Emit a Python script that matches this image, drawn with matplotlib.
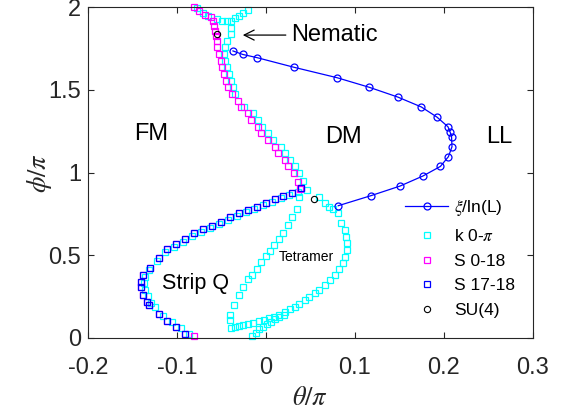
import matplotlib
matplotlib.use("Agg")
import matplotlib.pyplot as plt
from matplotlib.ticker import FuncFormatter

# xi/ln(L) line
theta_xi = [-0.0371, -0.0263, -0.0098, 0.0315, 0.0798, 0.116, 0.148, 0.1745, 0.192, 0.2045,
            0.207, 0.2085, 0.209, 0.205, 0.196, 0.1764, 0.1506, 0.118, 0.0812]
phi_xi = [1.736, 1.715, 1.695, 1.637, 1.574, 1.516, 1.457, 1.397, 1.336, 1.277,
          1.243, 1.217, 1.156, 1.096, 1.037, 0.979, 0.918, 0.86, 0.799]

# k 0-pi (cyan)
theta_k = [-0.077, -0.0712, -0.0652, -0.0547, -0.0494, -0.0443, -0.0398, -0.0353, -0.0308, -0.0263, -0.0202,
           -0.039, -0.039, -0.0435, -0.0465, -0.0472, -0.0457, -0.0443, -0.042, -0.0398, -0.0367, -0.0353,
           -0.0252, -0.0146, -0.009, -0.0042, 0.0018, 0.0074, 0.0164, 0.0217, 0.027, 0.0321, 0.0366, 0.0419,
           0.0456, 0.0599, 0.0658, 0.0711, 0.0756, 0.0809, 0.0846, 0.0883, 0.0899, 0.0913, 0.0913, 0.0891,
           0.0861, 0.0816, 0.0771, 0.0719, 0.0658, 0.0599, 0.0546, 0.0487, 0.0434, 0.0374, 0.0329, 0.027,
           0.0209, 0.0149, 0.009, 0.0029, -0.0022, -0.0083, -0.0151, -0.0202, -0.0255, -0.0308, -0.0353, -0.0398,
           -0.0409, -0.0404, -0.036, -0.0308, -0.0255, -0.0202, -0.0157, -0.0106, -0.0061, 0.0, 0.0045, 0.009,
           0.0142, 0.0187, 0.0247, 0.0292, 0.0344, 0.0374,
           -0.0157, -0.0112, -0.0075, -0.003, 0.0015, 0.006, 0.0104, 0.0149, 0.0197,
           0.036, 0.026, 0.017, 0.007, -0.003, -0.013, -0.023, -0.033, -0.043, -0.053, -0.063, -0.073,
           -0.083, -0.093, -0.103, -0.113, -0.123, -0.132, -0.136, -0.137, -0.136, -0.133, -0.129, -0.125,
           -0.116, -0.106, -0.096, -0.086]
phi_k = [1.995, 1.964, 1.947, 1.927, 1.919, 1.915, 1.919, 1.933, 1.947, 1.964, 1.984,
         1.875, 1.837, 1.794, 1.758, 1.717, 1.677, 1.637, 1.596, 1.556, 1.516, 1.475,
         1.398, 1.358, 1.318, 1.277, 1.237, 1.197, 1.156, 1.116, 1.076, 1.038, 0.997, 0.950,
         0.894, 0.854, 0.814, 0.793, 0.777, 0.753, 0.696, 0.652, 0.611, 0.571, 0.531, 0.487,
         0.450, 0.414, 0.380, 0.349, 0.317, 0.289, 0.269, 0.248, 0.228, 0.204, 0.188, 0.172,
         0.156, 0.139, 0.127, 0.119, 0.107, 0.099, 0.091, 0.083, 0.075, 0.071, 0.067, 0.059,
         0.107, 0.136, 0.200, 0.257, 0.305, 0.354, 0.381, 0.414, 0.458, 0.495, 0.527, 0.563,
         0.599, 0.636, 0.680, 0.729, 0.777, 0.854,
         0.010, 0.030, 0.051, 0.067, 0.083, 0.095, 0.111, 0.123, 0.137,
         0.885, 0.862, 0.843, 0.822, 0.802, 0.781, 0.760, 0.737, 0.715, 0.688, 0.665, 0.640,
         0.615, 0.582, 0.550, 0.520, 0.465, 0.410, 0.365, 0.330, 0.288, 0.250, 0.212, 0.185,
         0.130, 0.095, 0.058, 0.020]

# S 0-18 (magenta)
theta_s018 = [-0.0809, -0.0749, -0.069, -0.0615, -0.060, -0.0584, -0.057, -0.0562, -0.0555, -0.0547,
              -0.0533, -0.051, -0.0494, -0.0472, -0.0449, -0.0427, -0.0382, -0.0315, -0.0278, -0.0202,
              -0.0169, -0.009, -0.0061, 0.0022, 0.0097, 0.0138, 0.0209, 0.0243, 0.031, 0.0355, 0.0382,
              0.0397, 0.0292, 0.0194, 0.0097, 0.0, -0.0106, -0.0202, -0.030, -0.0404, -0.051, -0.0607,
              -0.0704, -0.0809, -0.0907, -0.101, -0.111, -0.1207, -0.1303, -0.1379, -0.140, -0.140,
              -0.1386, -0.134, -0.131, -0.1207, -0.111, -0.101, -0.0907, -0.0809]
phi_s018 = [2.0, 1.979, 1.955, 1.939, 1.915, 1.885, 1.855, 1.826, 1.794, 1.758,
            1.717, 1.677, 1.637, 1.596, 1.556, 1.516, 1.475, 1.435, 1.395, 1.358,
            1.318, 1.277, 1.237, 1.197, 1.156, 1.116, 1.076, 1.038, 0.997, 0.941, 0.898,
            0.906, 0.878, 0.858, 0.838, 0.817, 0.793, 0.773, 0.753, 0.732, 0.698, 0.676,
            0.656, 0.632, 0.597, 0.567, 0.535, 0.481, 0.424, 0.380, 0.339, 0.305,
            0.258, 0.218, 0.198, 0.143, 0.103, 0.063, 0.022, 0.008]

# S 17-18 (blue)
theta_s1718 = [0.0397, 0.0292, 0.0194, 0.0097, 0.0, -0.0106, -0.0202, -0.030, -0.0404, -0.051,
               -0.0607, -0.0704, -0.0809, -0.0907, -0.101, -0.111, -0.1207, -0.1303, -0.1379, -0.140,
               -0.140, -0.1386, -0.134, -0.131, -0.1207, -0.111, -0.101, -0.0907]
phi_s1718 = [0.906, 0.878, 0.858, 0.838, 0.817, 0.793, 0.773, 0.753, 0.732, 0.698,
             0.676, 0.656, 0.632, 0.597, 0.567, 0.535, 0.481, 0.424, 0.380, 0.339,
             0.305, 0.258, 0.218, 0.198, 0.143, 0.103, 0.063, 0.022]

# SU(4) points
theta_su4 = [-0.0555, 0.0543]
phi_su4 = [1.837, 0.840]

plt.rcParams['font.family'] = ['Liberation Sans', 'DejaVu Sans']
plt.rcParams['mathtext.fontset'] = 'stix'
plt.rcParams['axes.unicode_minus'] = False

fig = plt.figure(figsize=(5.71, 4.16), dpi=100)
ax = fig.add_axes([0.1541, 0.1882, 0.7793, 0.7942])

ms = 3.8
mew = 0.9
ax.plot(theta_xi, phi_xi, '-o', color='blue', lw=0.9, ms=5, mew=0.9, mfc='none', label=r'$\xi$/ln(L)', zorder=5)
ax.plot(theta_k, phi_k, 's', color='cyan', ms=ms, mew=mew, mfc='none', label=r'k 0-$\pi$', clip_on=False)
ax.plot(theta_s018, phi_s018, 's', color='magenta', ms=ms, mew=mew, mfc='none', label='S 0-18', clip_on=False)
ax.plot(theta_s1718, phi_s1718, 's', color='blue', ms=ms, mew=mew, mfc='none', label='S 17-18', clip_on=False)
ax.plot(theta_su4, phi_su4, 'o', color='black', ms=4.5, mew=0.8, mfc='none', label='SU(4)', clip_on=False)

ax.set_xlim(-0.2, 0.3)
ax.set_ylim(0, 2)
ax.set_xticks([-0.2, -0.1, 0, 0.1, 0.2, 0.3])
ax.set_yticks([0, 0.5, 1, 1.5, 2])
fmt = FuncFormatter(lambda v, p: '%g' % round(v, 3))
ax.xaxis.set_major_formatter(fmt)
ax.yaxis.set_major_formatter(fmt)
ax.tick_params(direction='in', top=True, right=True, length=4, width=0.8,
               labelsize=17, colors='0.15')
ax.tick_params(axis='x', pad=14)
ax.tick_params(axis='y', pad=5)
for sp in ax.spines.values():
    sp.set_color('0.15')
    sp.set_linewidth(0.8)

ax.set_xlabel(r'$\theta/\pi$', fontsize=19, color='0.15', labelpad=5)
ax.set_ylabel(r'$\phi/\pi$', fontsize=19, color='0.15', labelpad=-4)

# region labels
ax.text(-0.1294, 1.197, 'FM', fontsize=17, ha='center', va='baseline')
ax.text(0.0866, 1.177, 'DM', fontsize=17, ha='center', va='baseline')
ax.text(0.2618, 1.177, 'LL', fontsize=17, ha='center', va='baseline')
ax.text(-0.0787, 0.295, 'Strip Q', fontsize=15.5, ha='center', va='baseline')
ax.text(0.0456, 0.466, 'Tetramer', fontsize=10, ha='center', va='baseline')
ax.annotate('', xy=(-0.0292, 1.832), xytext=(0.0254, 1.832),
            arrowprops=dict(arrowstyle='->', color='black', lw=0.9, mutation_scale=18))
ax.text(0.0281, 1.798, 'Nematic', fontsize=17, ha='left', va='baseline')

ax.legend(loc='upper left', bbox_to_anchor=(0.697, 0.4425), frameon=False, fontsize=12.5,
          numpoints=1, handlelength=2.5, handletextpad=0.3, labelspacing=0.55,
          borderpad=0.4, borderaxespad=0)

fig.savefig('out.png', dpi=100)
